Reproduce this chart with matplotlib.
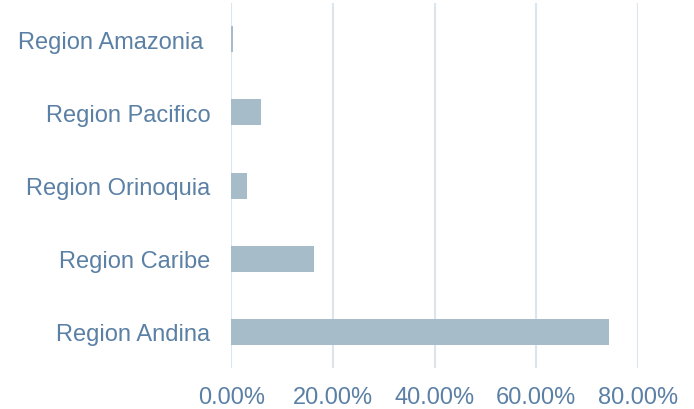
import matplotlib
matplotlib.use("Agg")
import matplotlib.pyplot as plt
from matplotlib.ticker import FuncFormatter

categories = ["Region Andina", "Region Caribe", "Region Orinoquia", "Region Pacifico", "Region Amazonia "]
values = [74.4, 16.3, 3.0, 5.8, 0.3]
xticks = [0, 20, 40, 60, 80]

text_color = "#5b80a5"
bar_color = "#a7bcc9"
grid_color = "#dbe5ee"

plt.rcParams['font.family'] = ['Liberation Sans', 'DejaVu Sans']

fig = plt.figure(figsize=(6.94, 4.10), dpi=100)
ax = fig.add_axes([0.3333, 0.0988, 0.9189 - 0.3333, 0.991 - 0.0988])

ax.barh(range(len(categories)), values, height=0.355, color=bar_color, zorder=3)
ax.set_yticks(range(len(categories)))
ax.set_yticklabels(categories)
ax.set_ylim(-0.5, len(categories) - 0.5)
ax.set_xlim(0, 80)
ax.set_xticks(xticks)
ax.xaxis.set_major_formatter(FuncFormatter(lambda v, p: f"{v:.2f}%"))
ax.grid(axis='x', color=grid_color, linewidth=1.5, zorder=0)
ax.grid(axis='y', visible=False)
for s in ax.spines.values():
    s.set_visible(False)
ax.tick_params(axis='both', length=0, labelsize=17, labelcolor=text_color)
ax.tick_params(axis='x', pad=12.5)
ax.tick_params(axis='y', pad=15)

fig.savefig("out.png", dpi=100)
